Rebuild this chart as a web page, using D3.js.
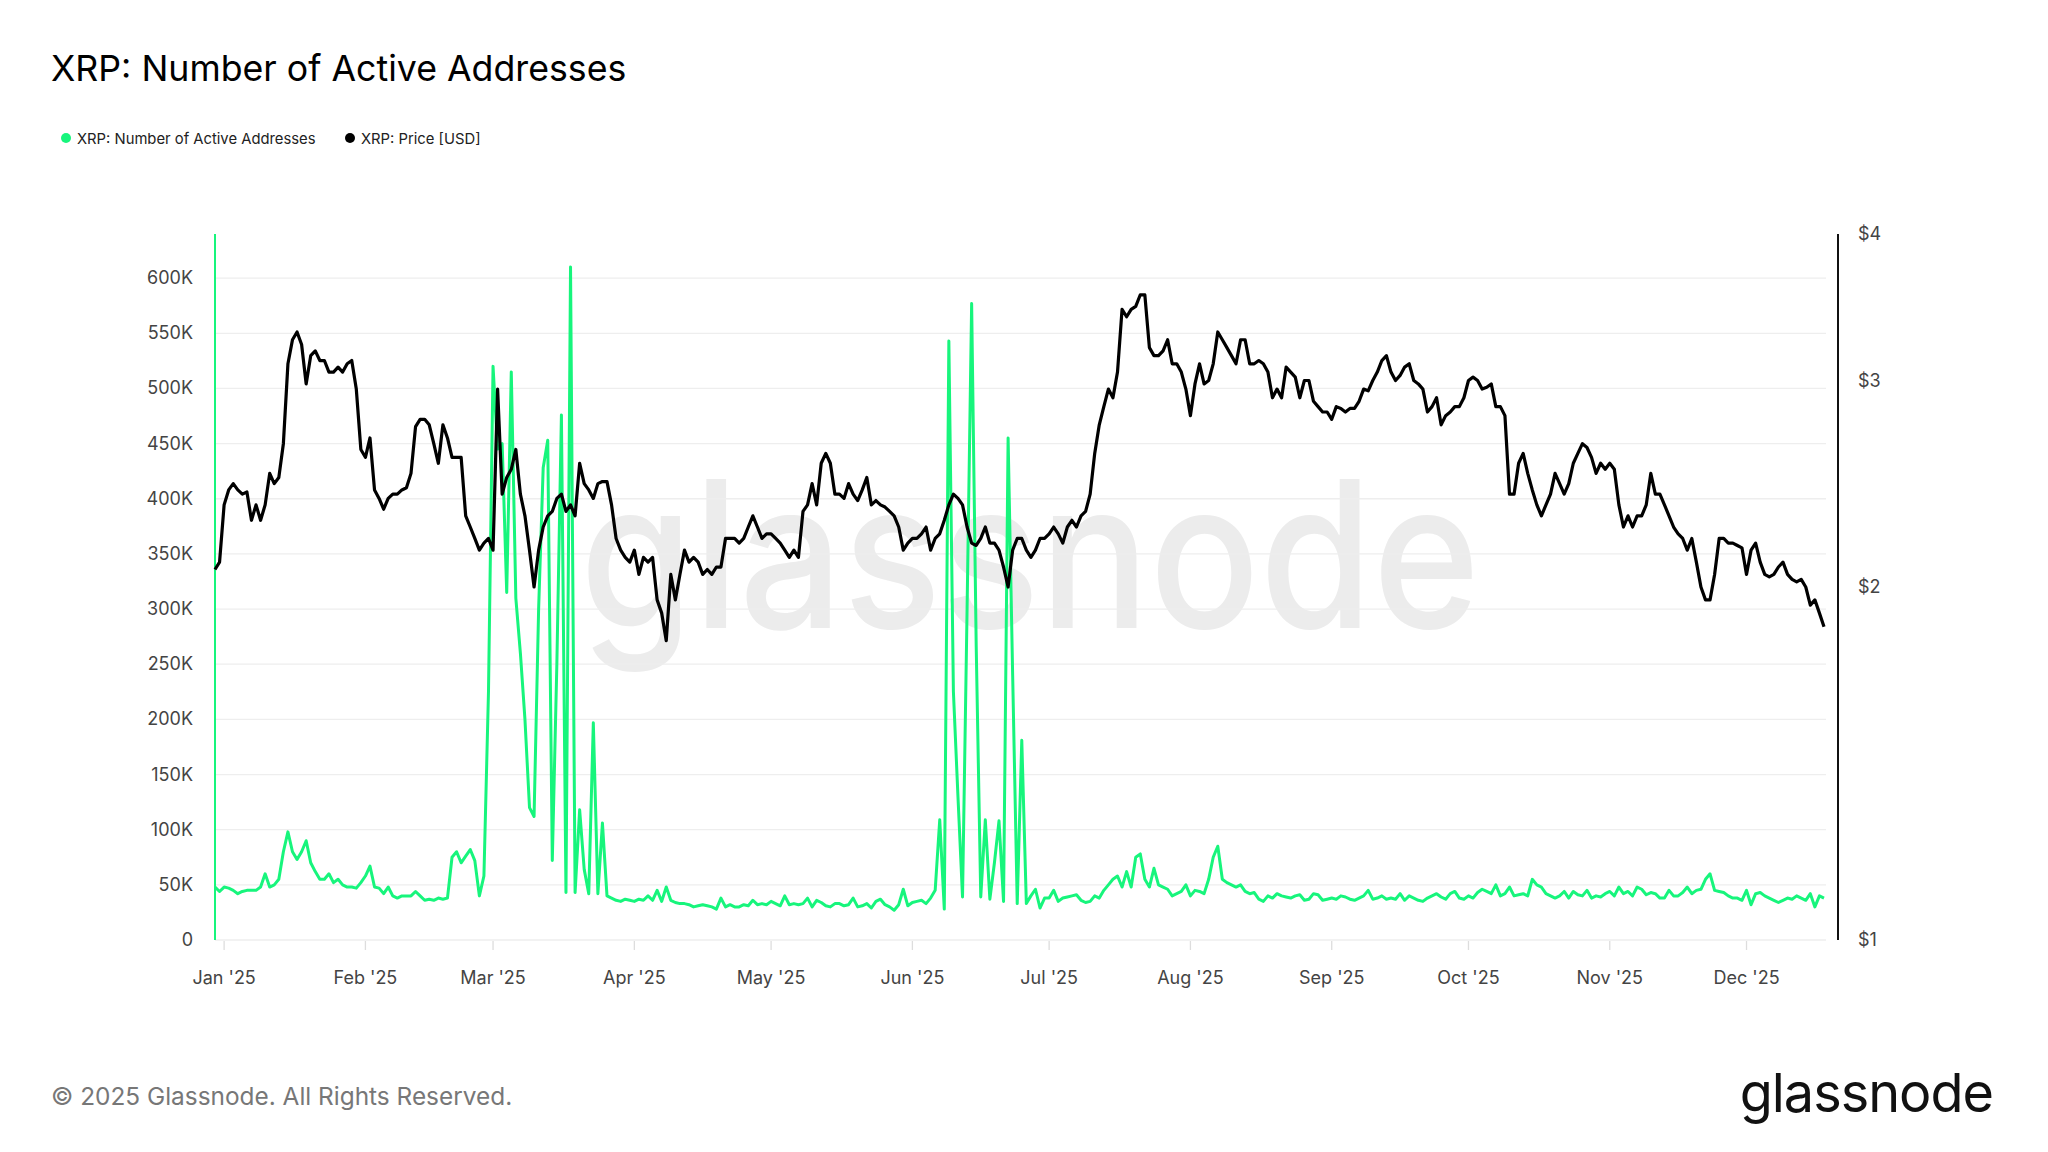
<!DOCTYPE html>
<html><head><meta charset="utf-8">
<script src="https://cdn.jsdelivr.net/npm/d3@7"></script>
<style>body{margin:0;background:#fff;font-family:Inter,"Noto Sans",sans-serif}</style>
</head><body><svg id="c" width="2048" height="1152"></svg>
<script>
const startDate = "2024-12-30";
// Daily price (USD), from 2024-12-30
const price = [2.07,2.10,
2.35,2.42,2.45,2.42,2.40,2.41,2.28,2.35,2.28,2.35,2.50,2.45,2.48,2.65,3.10,3.25,3.30,3.22,2.98,3.15,3.18,3.12,3.12,3.05,3.05,3.08,3.05,3.10,3.12,2.95,2.62,
2.58,2.68,2.42,2.38,2.33,2.38,2.40,2.40,2.42,2.43,2.50,2.74,2.78,2.78,2.75,2.65,2.55,2.75,2.68,2.58,2.58,2.58,2.30,2.25,2.20,2.15,2.18,2.20,
2.15,2.95,2.40,2.48,2.52,2.62,2.40,2.30,2.15,2.00,2.15,2.25,2.30,2.32,2.38,2.40,2.32,2.35,2.30,2.55,2.45,2.42,2.38,2.45,2.46,2.46,2.35,2.20,2.15,2.12,2.10,
2.15,2.05,2.12,2.10,2.12,1.95,1.90,1.80,2.05,1.95,2.05,2.15,2.10,2.12,2.10,2.05,2.07,2.05,2.08,2.08,2.20,2.20,2.20,2.18,2.20,2.25,2.30,2.25,2.20,2.22,
2.22,2.20,2.18,2.15,2.12,2.15,2.12,2.32,2.35,2.45,2.35,2.55,2.60,2.55,2.40,2.40,2.38,2.45,2.40,2.37,2.42,2.48,2.35,2.37,2.35,2.34,2.32,2.30,2.25,2.15,2.18,
2.20,2.20,2.22,2.25,2.15,2.20,2.22,2.28,2.35,2.40,2.38,2.35,2.25,2.18,2.17,2.20,2.25,2.18,2.18,2.15,2.08,2.00,2.15,2.20,2.20,2.15,2.12,2.15,2.20,2.20,
2.22,2.25,2.22,2.18,2.25,2.28,2.25,2.30,2.32,2.40,2.60,2.75,2.85,2.95,2.90,3.05,3.45,3.40,3.45,3.47,3.55,3.55,3.20,3.15,3.15,3.18,3.25,3.10,3.10,3.05,2.95,
2.80,2.98,3.10,2.98,3.00,3.10,3.30,3.25,3.20,3.15,3.10,3.25,3.25,3.10,3.10,3.12,3.10,3.05,2.90,2.95,2.90,3.08,3.05,3.02,2.90,3.00,3.00,2.88,2.85,2.82,2.82,
2.78,2.85,2.84,2.82,2.84,2.84,2.88,2.95,2.94,3.00,3.05,3.12,3.15,3.05,3.00,3.03,3.08,3.10,3.00,2.98,2.95,2.82,2.85,2.90,2.75,2.80,2.82,2.85,2.85,2.90,
3.00,3.02,3.00,2.95,2.96,2.98,2.85,2.85,2.80,2.40,2.40,2.55,2.60,2.50,2.42,2.35,2.30,2.35,2.40,2.50,2.45,2.40,2.45,2.55,2.60,2.65,2.63,2.58,2.50,2.55,2.52,
2.55,2.52,2.35,2.25,2.30,2.25,2.30,2.30,2.35,2.50,2.40,2.40,2.35,2.30,2.25,2.22,2.20,2.15,2.20,2.10,2.00,1.95,1.95,2.05,2.20,2.20,2.18,2.18,2.17,2.16,
2.05,2.15,2.18,2.10,2.05,2.04,2.05,2.08,2.10,2.05,2.03,2.02,2.03,2.00,1.93,1.95,1.90,1.85];
// Daily active addresses (thousands), from 2024-12-30
const active = [48,44,
48,47,45,42,44,45,45,45,48,60,48,50,55,80,98,80,73,80,90,70,62,55,55,60,52,55,50,48,48,47,52,
58,67,48,47,42,48,40,38,40,40,40,44,40,36,37,36,38,37,38,75,80,70,76,82,72,40,58,225,
520,445,450,315,515,310,260,200,120,112,300,428,453,72,250,476,43,610,43,118,64,42,197,42,106,40,38,36,35,37,36,
35,37,36,40,36,45,35,48,36,34,33,33,32,30,31,32,31,30,28,38,30,32,30,30,32,31,36,32,33,32,
35,33,31,40,32,33,32,33,38,30,36,34,31,30,33,33,31,32,38,30,31,33,29,35,37,32,30,27,32,46,31,
34,35,36,33,38,45,109,28,543,225,130,39,300,577,267,39,109,37,70,108,35,455,240,33,181,33,40,46,29,38,
38,45,35,38,39,40,41,36,34,35,40,38,45,50,55,58,48,62,48,75,78,55,48,65,50,48,46,40,42,44,50,
40,45,44,42,55,75,85,55,52,50,48,50,44,42,43,37,35,40,38,42,40,39,38,40,41,36,37,42,41,36,37,
38,37,40,39,37,36,38,40,45,37,38,40,37,38,37,42,36,40,38,36,35,38,40,42,39,37,42,44,38,37,
40,38,43,46,44,42,50,40,42,48,40,41,42,40,55,50,48,42,40,38,40,44,38,44,41,40,45,38,40,39,42,
44,40,48,42,44,40,48,46,41,43,42,38,38,45,40,40,43,48,42,45,46,55,60,45,44,43,40,38,38,36,
45,32,42,43,40,38,36,34,36,38,37,40,38,36,42,30,40,38];
const leftTicks = [0,50000,100000,150000,200000,250000,300000,350000,400000,450000,500000,550000,600000];
const rightTicks = [1,2,3,4];
const monthTicks = ["2025-01-01","2025-02-01","2025-03-01","2025-04-01","2025-05-01","2025-06-01","2025-07-01","2025-08-01","2025-09-01","2025-10-01","2025-11-01","2025-12-01"];

const svg = d3.select("#c");
const t0 = new Date(startDate+"T00:00:00Z");
const n = Math.min(price.length, active.length);
const dates = d3.range(n).map(i => new Date(t0.getTime()+i*864e5));
const x = d3.scaleUtc().domain([t0, dates[n-1]]).range([215,1824]);
const yL = d3.scaleLinear().domain([0,640000]).range([940,234]);
const yR = d3.scaleLog().domain([1,4]).range([940,234]);
const fmtK = v => v===0 ? "0" : (v/1000)+"K";
const mfmt = d3.utcFormat("%b '%y");
const green = "#17f57c";

svg.append("text").attr("x",51).attr("y",81).attr("font-size",35.7).attr("fill","#000").text("XRP: Number of Active Addresses");
svg.append("circle").attr("cx",66).attr("cy",138).attr("r",5).attr("fill",green);
svg.append("text").attr("x",77).attr("y",143.5).attr("font-size",14.8).attr("fill","#222").text("XRP: Number of Active Addresses");
svg.append("circle").attr("cx",350).attr("cy",138).attr("r",5).attr("fill","#000");
svg.append("text").attr("x",361).attr("y",143.5).attr("font-size",14.8).attr("fill","#222").text("XRP: Price [USD]");

svg.append("text").attr("x",580).attr("y",628).attr("font-size",205).attr("fill","#ececec")
  .attr("textLength",900).attr("lengthAdjust","spacingAndGlyphs").attr("font-weight",500).text("glassnode");

svg.append("g").selectAll("line").data(leftTicks).join("line")
  .attr("x1",215).attr("x2",1826).attr("y1",d=>yL(d)).attr("y2",d=>yL(d)).attr("stroke","#eeeeee").attr("stroke-width",1.3);
svg.append("g").selectAll("text").data(leftTicks).join("text")
  .attr("x",193).attr("y",d=>yL(d)+6).attr("text-anchor","end").attr("font-size",18).attr("fill","#444").text(fmtK);
svg.append("line").attr("x1",1838).attr("x2",1838).attr("y1",234).attr("y2",940).attr("stroke","#111").attr("stroke-width",2);
svg.append("g").selectAll("text").data(rightTicks).join("text")
  .attr("x",1858).attr("y",d=>yR(d)+6).attr("font-size",18).attr("fill","#444").text(d=>"$"+d);
const md = monthTicks.map(s=>new Date(s+"T00:00:00Z"));
svg.append("g").selectAll("line").data(md).join("line")
  .attr("x1",d=>x(d)).attr("x2",d=>x(d)).attr("y1",941).attr("y2",950).attr("stroke","#ddd").attr("stroke-width",1.3);
svg.append("g").selectAll("text").data(md).join("text")
  .attr("x",d=>x(d)).attr("y",984).attr("text-anchor","middle").attr("font-size",18).attr("fill","#444").text(mfmt);
svg.append("line").attr("x1",215).attr("x2",215).attr("y1",234).attr("y2",940).attr("stroke",green).attr("stroke-width",2);

svg.append("path").datum(d3.range(n)).attr("fill","none").attr("stroke",green).attr("stroke-width",3).attr("stroke-linejoin","round")
  .attr("d",d3.line().x(i=>x(dates[i])).y(i=>yL(active[i]*1000)));
svg.append("path").datum(d3.range(n)).attr("fill","none").attr("stroke","#000").attr("stroke-width",3.2).attr("stroke-linejoin","round")
  .attr("d",d3.line().x(i=>x(dates[i])).y(i=>yR(price[i])));

svg.append("text").attr("x",51).attr("y",1105).attr("font-size",24.4).attr("fill","#777").text("© 2025 Glassnode. All Rights Reserved.");
svg.append("text").attr("x",1993).attr("y",1112).attr("text-anchor","end").attr("font-size",54).attr("fill","#111").attr("letter-spacing",-1).text("glassnode");
</script></body></html>
